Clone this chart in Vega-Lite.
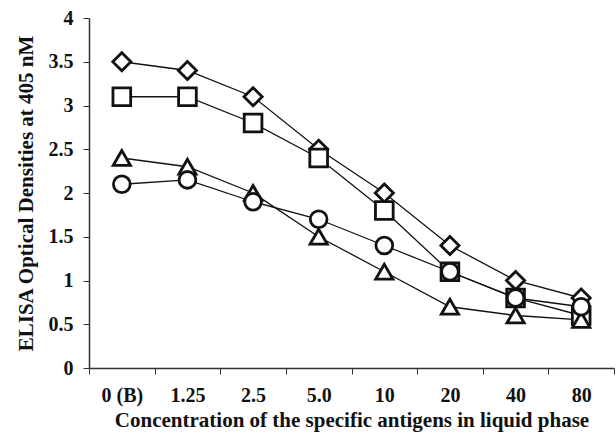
{
  "$schema": "https://vega.github.io/schema/vega-lite/v6.json",
  "width": 525,
  "height": 350,
  "autosize": {"type": "none"},
  "padding": {"left": 89, "top": 18, "right": 2, "bottom": 68},
  "background": "white",
  "config": {"view": {"stroke": null}, "font": "Liberation Serif"},
  "data": {"values": [
    {"conc": "0 (B)", "series": "A", "od": 3.5},
    {"conc": "1.25", "series": "A", "od": 3.4},
    {"conc": "2.5", "series": "A", "od": 3.1},
    {"conc": "5.0", "series": "A", "od": 2.5},
    {"conc": "10", "series": "A", "od": 2.0},
    {"conc": "20", "series": "A", "od": 1.4},
    {"conc": "40", "series": "A", "od": 1.0},
    {"conc": "80", "series": "A", "od": 0.8},
    {"conc": "0 (B)", "series": "B", "od": 3.1},
    {"conc": "1.25", "series": "B", "od": 3.1},
    {"conc": "2.5", "series": "B", "od": 2.8},
    {"conc": "5.0", "series": "B", "od": 2.4},
    {"conc": "10", "series": "B", "od": 1.8},
    {"conc": "20", "series": "B", "od": 1.1},
    {"conc": "40", "series": "B", "od": 0.8},
    {"conc": "80", "series": "B", "od": 0.6},
    {"conc": "0 (B)", "series": "C", "od": 2.4},
    {"conc": "1.25", "series": "C", "od": 2.3},
    {"conc": "2.5", "series": "C", "od": 2.0},
    {"conc": "5.0", "series": "C", "od": 1.5},
    {"conc": "10", "series": "C", "od": 1.1},
    {"conc": "20", "series": "C", "od": 0.7},
    {"conc": "40", "series": "C", "od": 0.6},
    {"conc": "80", "series": "C", "od": 0.55},
    {"conc": "0 (B)", "series": "D", "od": 2.1},
    {"conc": "1.25", "series": "D", "od": 2.15},
    {"conc": "2.5", "series": "D", "od": 1.9},
    {"conc": "5.0", "series": "D", "od": 1.7},
    {"conc": "10", "series": "D", "od": 1.4},
    {"conc": "20", "series": "D", "od": 1.1},
    {"conc": "40", "series": "D", "od": 0.8},
    {"conc": "80", "series": "D", "od": 0.7}
  ]},
  "encoding": {
    "x": {
      "field": "conc", "type": "ordinal",
      "sort": ["0 (B)", "1.25", "2.5", "5.0", "10", "20", "40", "80"],
      "scale": {"paddingInner": 0, "paddingOuter": 0},
      "axis": {
        "title": "Concentration of the specific antigens in liquid phase",
        "titleFont": "Liberation Serif", "titleFontSize": 21, "titleFontWeight": "bold", "titleColor": "#111",
        "titlePadding": 4,
        "labelFont": "Liberation Serif", "labelFontSize": 20, "labelFontWeight": "bold", "labelColor": "#111",
        "labelAngle": 0, "labelPadding": 11,
        "tickBand": "extent", "tickSize": 6, "tickColor": "#333", "domainColor": "#333", "domainWidth": 1.5
      }
    },
    "y": {
      "field": "od", "type": "quantitative",
      "scale": {"domain": [0, 4]},
      "axis": {
        "title": "ELISA Optical Densities at 405 nM",
        "titleFont": "Liberation Serif", "titleFontSize": 21, "titleFontWeight": "bold", "titleColor": "#111",
        "titlePadding": 12,
        "labelFont": "Liberation Serif", "labelFontSize": 20, "labelFontWeight": "bold", "labelColor": "#111",
        "values": [0, 0.5, 1, 1.5, 2, 2.5, 3, 3.5, 4],
        "format": "~g",
        "grid": false, "tickSize": 6, "tickColor": "#333", "domainColor": "#333", "domainWidth": 1.5, "labelPadding": 10
      }
    }
  },
  "layer": [
    {
      "mark": {"type": "line", "color": "#111", "strokeWidth": 1.3},
      "encoding": {"detail": {"field": "series"}}
    },
    {
      "mark": {"type": "point", "filled": false, "fill": "white", "fillOpacity": 1, "stroke": "#111", "strokeWidth": 2.8, "opacity": 1},
      "encoding": {
        "shape": {
          "field": "series", "type": "nominal",
          "scale": {"domain": ["A", "B", "C", "D"], "range": ["diamond", "square", "triangle-up", "circle"]},
          "legend": null
        },
        "size": {
          "field": "series", "type": "nominal",
          "scale": {"domain": ["A", "B", "C", "D"], "range": [330, 280, 340, 240]},
          "legend": null
        }
      }
    }
  ]
}
